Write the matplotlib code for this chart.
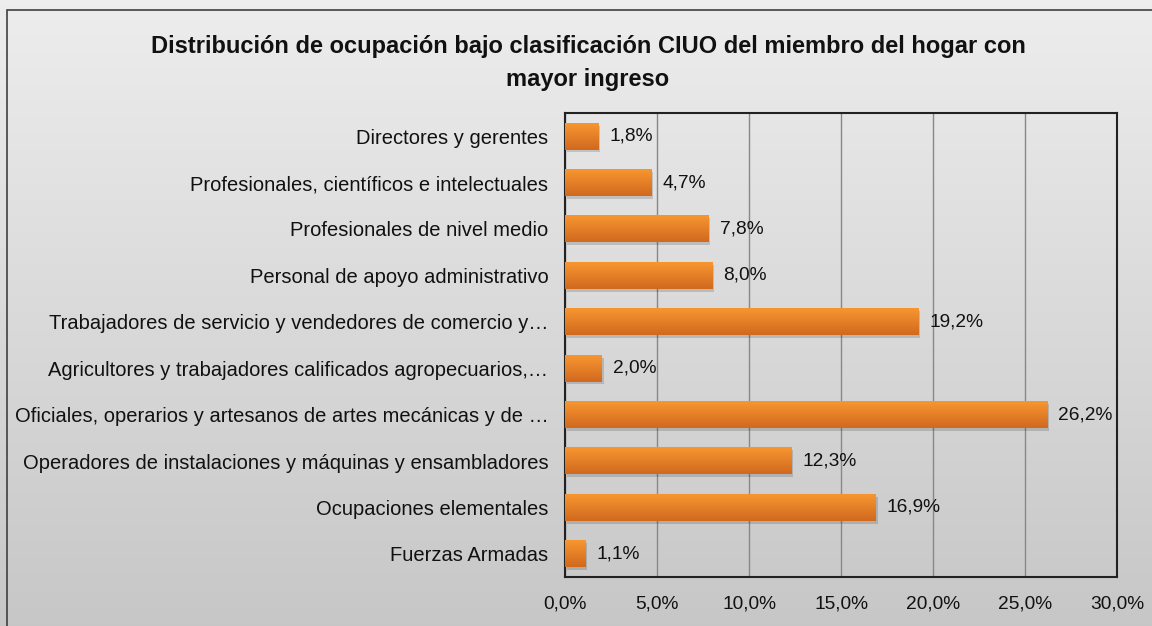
import numpy as np
import matplotlib
matplotlib.use("Agg")
import matplotlib.pyplot as plt
from matplotlib.patches import Rectangle

# --- data ---
categories = [
    "Directores y gerentes",
    "Profesionales, científicos e intelectuales",
    "Profesionales de nivel medio",
    "Personal de apoyo administrativo",
    "Trabajadores de servicio y vendedores de comercio y…",
    "Agricultores y trabajadores calificados agropecuarios,…",
    "Oficiales, operarios y artesanos de artes mecánicas y de …",
    "Operadores de instalaciones y máquinas y ensambladores",
    "Ocupaciones elementales",
    "Fuerzas Armadas",
]
values = [1.8, 4.7, 7.8, 8.0, 19.2, 2.0, 26.2, 12.3, 16.9, 1.1]
xticks = [0, 5, 10, 15, 20, 25, 30]
title = ("Distribución de ocupación bajo clasificación CIUO del miembro del hogar con\n"
         "mayor ingreso")

plt.rcParams['font.family'] = ['Liberation Sans', 'DejaVu Sans']

W, H = 1152, 626
fig = plt.figure(figsize=(W / 100, H / 100), dpi=100)

# background gradient over the whole figure
bg = fig.add_axes([0, 0, 1, 1], zorder=0)
grad = np.linspace(0.93, 0.78, 256).reshape(-1, 1)
bg.imshow(np.dstack([grad, grad, grad]), aspect="auto", extent=[0, 1, 0, 1], origin="upper")
bg.set_xlim(0, 1)
bg.set_ylim(0, 1)
bg.axis("off")
# outer chart border
bg.add_patch(Rectangle((7 / W, -0.1), 1.2, 1 - 10 / H + 0.1, fill=False,
                       edgecolor="#404040", lw=1.2, transform=bg.transAxes))

# plot area in pixels: left 565, right 1117, top 113, bottom 577
ax = fig.add_axes([565 / W, 1 - 577 / H, (1117 - 565) / W, (577 - 113) / H], zorder=1)
ax.patch.set_alpha(0)

y = np.arange(len(categories))
bar_h = 0.58
bars = ax.barh(y, values, height=bar_h, color="#f28c2c", zorder=3)

# orange vertical gradient on each bar
bar_grad = np.linspace(0, 1, 64).reshape(-1, 1)
top_c = np.array([0.97, 0.59, 0.19])
bot_c = np.array([0.82, 0.41, 0.12])
cimg = (top_c[None, None, :] * (1 - bar_grad[..., None]) + bot_c[None, None, :] * bar_grad[..., None])
for b in bars:
    x0, y0 = b.get_x(), b.get_y()
    w, h = b.get_width(), b.get_height()
    # shadow
    ax.add_patch(Rectangle((x0 + 0.1, y0 + 0.06), w, h, color="#000000", alpha=0.15, zorder=2, lw=0))
    ax.imshow(cimg, extent=[x0, x0 + w, y0 + h, y0], aspect="auto", zorder=4, origin="upper")
    ax.text(x0 + w + 0.6, y0 + h / 2, f"{w:.1f}%".replace(".", ","),
            va="center", ha="left", fontsize=13.8, color="#111111", zorder=5)

ax.set_xlim(0, 30)
ax.set_ylim(len(categories) - 0.5, -0.5)
ax.set_xticks(xticks)
ax.set_xticklabels([f"{t:.1f}%".replace(".", ",") for t in xticks], fontsize=13.8, color="#111111")
ax.set_yticks(y)
ax.set_yticklabels(categories, fontsize=14.5, color="#111111")
ax.tick_params(axis="both", length=0)
ax.tick_params(axis="y", pad=12)
ax.tick_params(axis="x", pad=13)
ax.xaxis.grid(True, color="#888888", lw=1, zorder=1)
ax.set_axisbelow(True)
for s in ax.spines.values():
    s.set_color("#222222")
    s.set_linewidth(1.5)

fig.text(588 / W, 1 - 63 / H, title, ha="center", va="center", fontsize=17,
         fontweight="bold", color="#111111", linespacing=1.55)

fig.savefig("out.png", dpi=100)
